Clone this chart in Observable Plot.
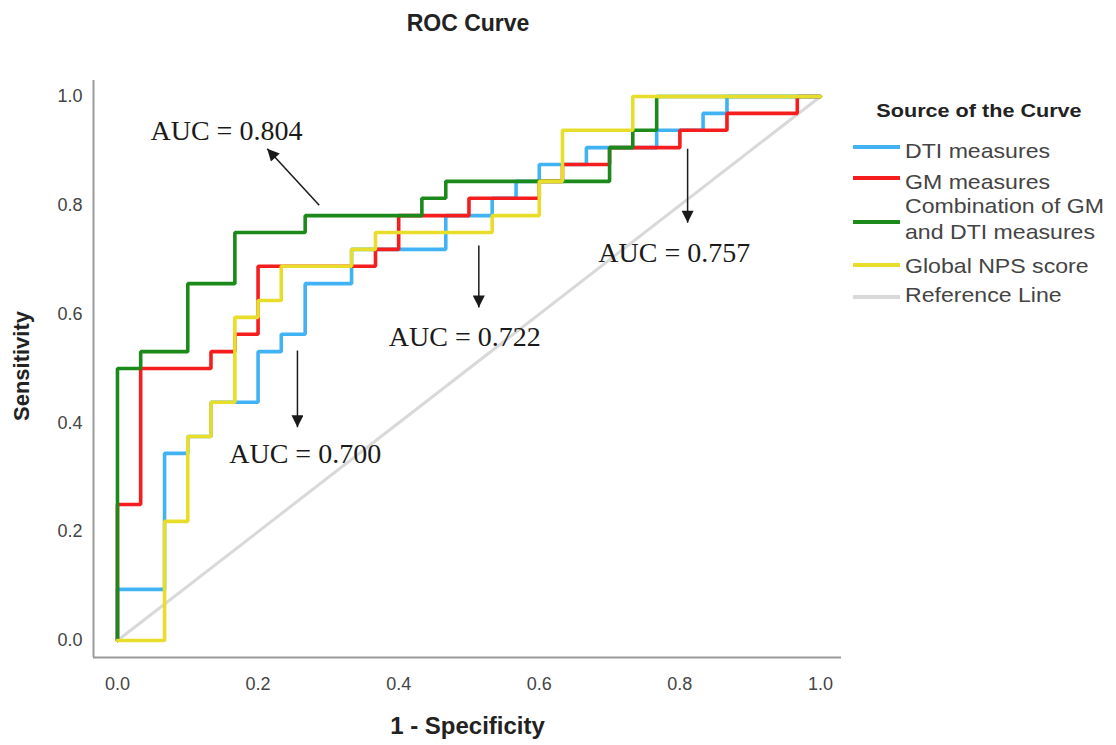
<!DOCTYPE html>
<html>
<head>
<meta charset="utf-8">
<script src="https://cdn.jsdelivr.net/npm/d3@7"></script>
<script src="https://cdn.jsdelivr.net/npm/@observablehq/plot@0.6"></script>
<style>
  body { margin: 0; background: #fff; }
  #wrap { position: relative; width: 1116px; height: 745px; overflow: hidden; background: #fff; }
  #title { position: absolute; left: 0; top: 10px; width: 936px; height: 40px; line-height: 26px; text-align: center;
           font: bold 23px "Liberation Sans", Arial, sans-serif; color: #222; }
  #chart { position: absolute; left: 0; top: 50px; }
  .lg-title { position: absolute; left: 979px; top: 101px; line-height: 26px; font: bold 18px "Liberation Sans", Arial, sans-serif;
              color: #222; white-space: nowrap; transform: translateX(-50%) scaleX(1.2); }
  .lg-sw { position: absolute; left: 853px; width: 47px; height: 4px; }
  .lg-tx { position: absolute; left: 905px; font: 21px "Liberation Sans", Arial, sans-serif; line-height: 26px; color: #444;
           white-space: pre; transform-origin: 0 0; transform: scaleX(1.1); }
</style>
</head>
<body>
<div id="wrap">
  <div id="title">ROC Curve</div>
  <div id="chart"></div>
  <div id="legend"></div>
</div>
<script>
// ---------------- data ----------------
const seriesNames = ["DTI measures", "GM measures", "Combination of GM and DTI measures", "Global NPS score"];
const legendLabels = ["DTI measures", "GM measures", "Combination of GM\nand DTI measures", "Global NPS score", "Reference Line"];
const seriesColors = ["#41b3f5", "#f51d1d", "#1b8a1b", "#e9dd2b"];
const referenceColor = "#d9d9d9";

const dtiFpr = [0, 0, 0.067, 0.067, 0.1, 0.1, 0.133, 0.133, 0.2, 0.2, 0.233, 0.233, 0.267, 0.267, 0.333, 0.333, 0.467, 0.467, 0.533, 0.533, 0.567, 0.567, 0.6, 0.6, 0.667, 0.667, 0.767, 0.767, 0.833, 0.833, 0.867, 0.867, 1];
const dtiTpr = [0, 0.094, 0.094, 0.344, 0.344, 0.375, 0.375, 0.438, 0.438, 0.531, 0.531, 0.563, 0.563, 0.656, 0.656, 0.719, 0.719, 0.781, 0.781, 0.813, 0.813, 0.844, 0.844, 0.875, 0.875, 0.906, 0.906, 0.938, 0.938, 0.969, 0.969, 1, 1];

const gmFpr = [0, 0, 0.033, 0.033, 0.133, 0.133, 0.167, 0.167, 0.2, 0.2, 0.367, 0.367, 0.4, 0.4, 0.5, 0.5, 0.6, 0.6, 0.633, 0.633, 0.7, 0.7, 0.8, 0.8, 0.867, 0.867, 0.967, 0.967, 1];
const gmTpr = [0, 0.25, 0.25, 0.5, 0.5, 0.531, 0.531, 0.563, 0.563, 0.688, 0.688, 0.719, 0.719, 0.781, 0.781, 0.813, 0.813, 0.844, 0.844, 0.875, 0.875, 0.906, 0.906, 0.938, 0.938, 0.969, 0.969, 1, 1];

const comboFpr = [0, 0, 0.033, 0.033, 0.1, 0.1, 0.167, 0.167, 0.267, 0.267, 0.433, 0.433, 0.467, 0.467, 0.7, 0.7, 0.733, 0.733, 0.767, 0.767, 1];
const comboTpr = [0, 0.5, 0.5, 0.531, 0.531, 0.656, 0.656, 0.75, 0.75, 0.781, 0.781, 0.813, 0.813, 0.844, 0.844, 0.906, 0.906, 0.938, 0.938, 1, 1];

const npsFpr = [0, 0.067, 0.067, 0.1, 0.1, 0.133, 0.133, 0.167, 0.167, 0.2, 0.2, 0.233, 0.233, 0.333, 0.333, 0.367, 0.367, 0.533, 0.533, 0.6, 0.6, 0.633, 0.633, 0.733, 0.733, 1];
const npsTpr = [0, 0, 0.219, 0.219, 0.375, 0.375, 0.438, 0.438, 0.594, 0.594, 0.625, 0.625, 0.688, 0.688, 0.719, 0.719, 0.75, 0.75, 0.781, 0.781, 0.844, 0.844, 0.938, 0.938, 1, 1];

const refFpr = [0, 1];
const refTpr = [0, 1];

const xTicks = [0, 0.2, 0.4, 0.6, 0.8, 1.0];
const yTicks = [0, 0.2, 0.4, 0.6, 0.8, 1.0];

const aucLabels = ["AUC = 0.804", "AUC = 0.722", "AUC = 0.700", "AUC = 0.757"];
const aucX = [0.155, 0.494, 0.267, 0.792];
const aucY = [0.936, 0.557, 0.342, 0.713];
const arrowX1 = [0.287, 0.514, 0.256, 0.811];
const arrowY1 = [0.800, 0.726, 0.533, 0.904];
const arrowX2 = [0.213, 0.514, 0.256, 0.811];
const arrowY2 = [0.904, 0.612, 0.392, 0.768];

// ---------------- tables ----------------
const seriesFpr = [dtiFpr, gmFpr, comboFpr, npsFpr];
const seriesTpr = [dtiTpr, gmTpr, comboTpr, npsTpr];
const curves = [];
seriesNames.forEach((name, i) => {
  seriesFpr[i].forEach((f, j) => curves.push({series: name, fpr: f, tpr: seriesTpr[i][j]}));
});
const refLine = refFpr.map((f, j) => ({fpr: f, tpr: refTpr[j]}));
const notes = aucLabels.map((t, i) => ({text: t, x: aucX[i], y: aucY[i]}));
const arrows = aucLabels.map((t, i) => ({x1: arrowX1[i], y1: arrowY1[i], x2: arrowX2[i], y2: arrowY2[i]}));

const xDomain = [-0.0341, 1.0299];
const yDomain = [-0.03125, 1.0294];
const sans = "Liberation Sans, Arial, sans-serif";

const svg = Plot.plot({
  width: 1116,
  height: 695,
  marginLeft: 93,
  marginRight: 275,
  marginTop: 30,
  marginBottom: 88,
  style: {background: "#fff", fontFamily: sans},
  x: {domain: xDomain},
  y: {domain: yDomain},
  color: {domain: seriesNames, range: seriesColors},
  marks: [
    Plot.line(refLine, {x: "fpr", y: "tpr", stroke: referenceColor, strokeWidth: 3}),
    Plot.line(curves, {x: "fpr", y: "tpr", z: "series", stroke: "series", strokeWidth: 3.6, strokeLinejoin: "miter"}),
    Plot.ruleX([xDomain[0]], {stroke: "#9a9a9a", strokeWidth: 2}),
    Plot.ruleY([yDomain[0]], {stroke: "#9a9a9a", strokeWidth: 2}),
    Plot.axisX({ticks: xTicks, tickFormat: d3.format(".1f"), tickSize: 0, tickPadding: 20, fontSize: 18, fill: "#444", label: null}),
    Plot.axisY({ticks: yTicks, tickFormat: d3.format(".1f"), tickSize: 0, tickPadding: 11, fontSize: 18, fill: "#444", label: null}),
    Plot.text(["1 - Specificity"], {frameAnchor: "bottom", textAnchor: "middle", lineAnchor: "middle", dy: 69, fontSize: 24, fontWeight: "bold", fill: "#222", fontFamily: sans}),
    Plot.text(["Sensitivity"], {frameAnchor: "left", textAnchor: "middle", lineAnchor: "middle", dx: -72, dy: -3, rotate: -90, fontSize: 22, fontWeight: "bold", fill: "#222", fontFamily: sans}),
    Plot.link(arrows, {x1: "x1", y1: "y1", x2: "x2", y2: "y2", stroke: "#1a1a1a", strokeWidth: 1.5}),
    Plot.text(notes, {x: "x", y: "y", text: "text", fontSize: 28, fontFamily: "Liberation Serif, Times New Roman, serif", fill: "#1a1a1a"})
  ]
});

// filled arrowheads on the annotation links
const s = d3.select(svg);
const defs = s.insert("defs", ":first-child");
defs.append("marker")
  .attr("id", "ahead").attr("viewBox", "0 0 10 10").attr("refX", 10).attr("refY", 5)
  .attr("markerUnits", "userSpaceOnUse").attr("markerWidth", 14).attr("markerHeight", 12).attr("orient", "auto")
  .append("path").attr("d", "M0,0L10,5L0,10Z").attr("fill", "#1a1a1a");
s.selectAll('g[aria-label="link"] path').attr("marker-end", "url(#ahead)");

document.getElementById("chart").appendChild(svg);

// ---------------- legend ----------------
const legend = d3.select("#legend");
legend.append("div").attr("class", "lg-title").text("Source of the Curve");
const legendColors = seriesColors.concat([referenceColor]);
const swatchY = [147, 178, 222, 265, 297];
const textTop = [138, 169, 193, 253, 282];
legendLabels.forEach((lab, i) => {
  legend.append("div").attr("class", "lg-sw").style("top", (swatchY[i] - 2) + "px").style("background", legendColors[i]);
  legend.append("div").attr("class", "lg-tx").style("top", textTop[i] + "px").text(lab);
});
</script>
</body>
</html>
